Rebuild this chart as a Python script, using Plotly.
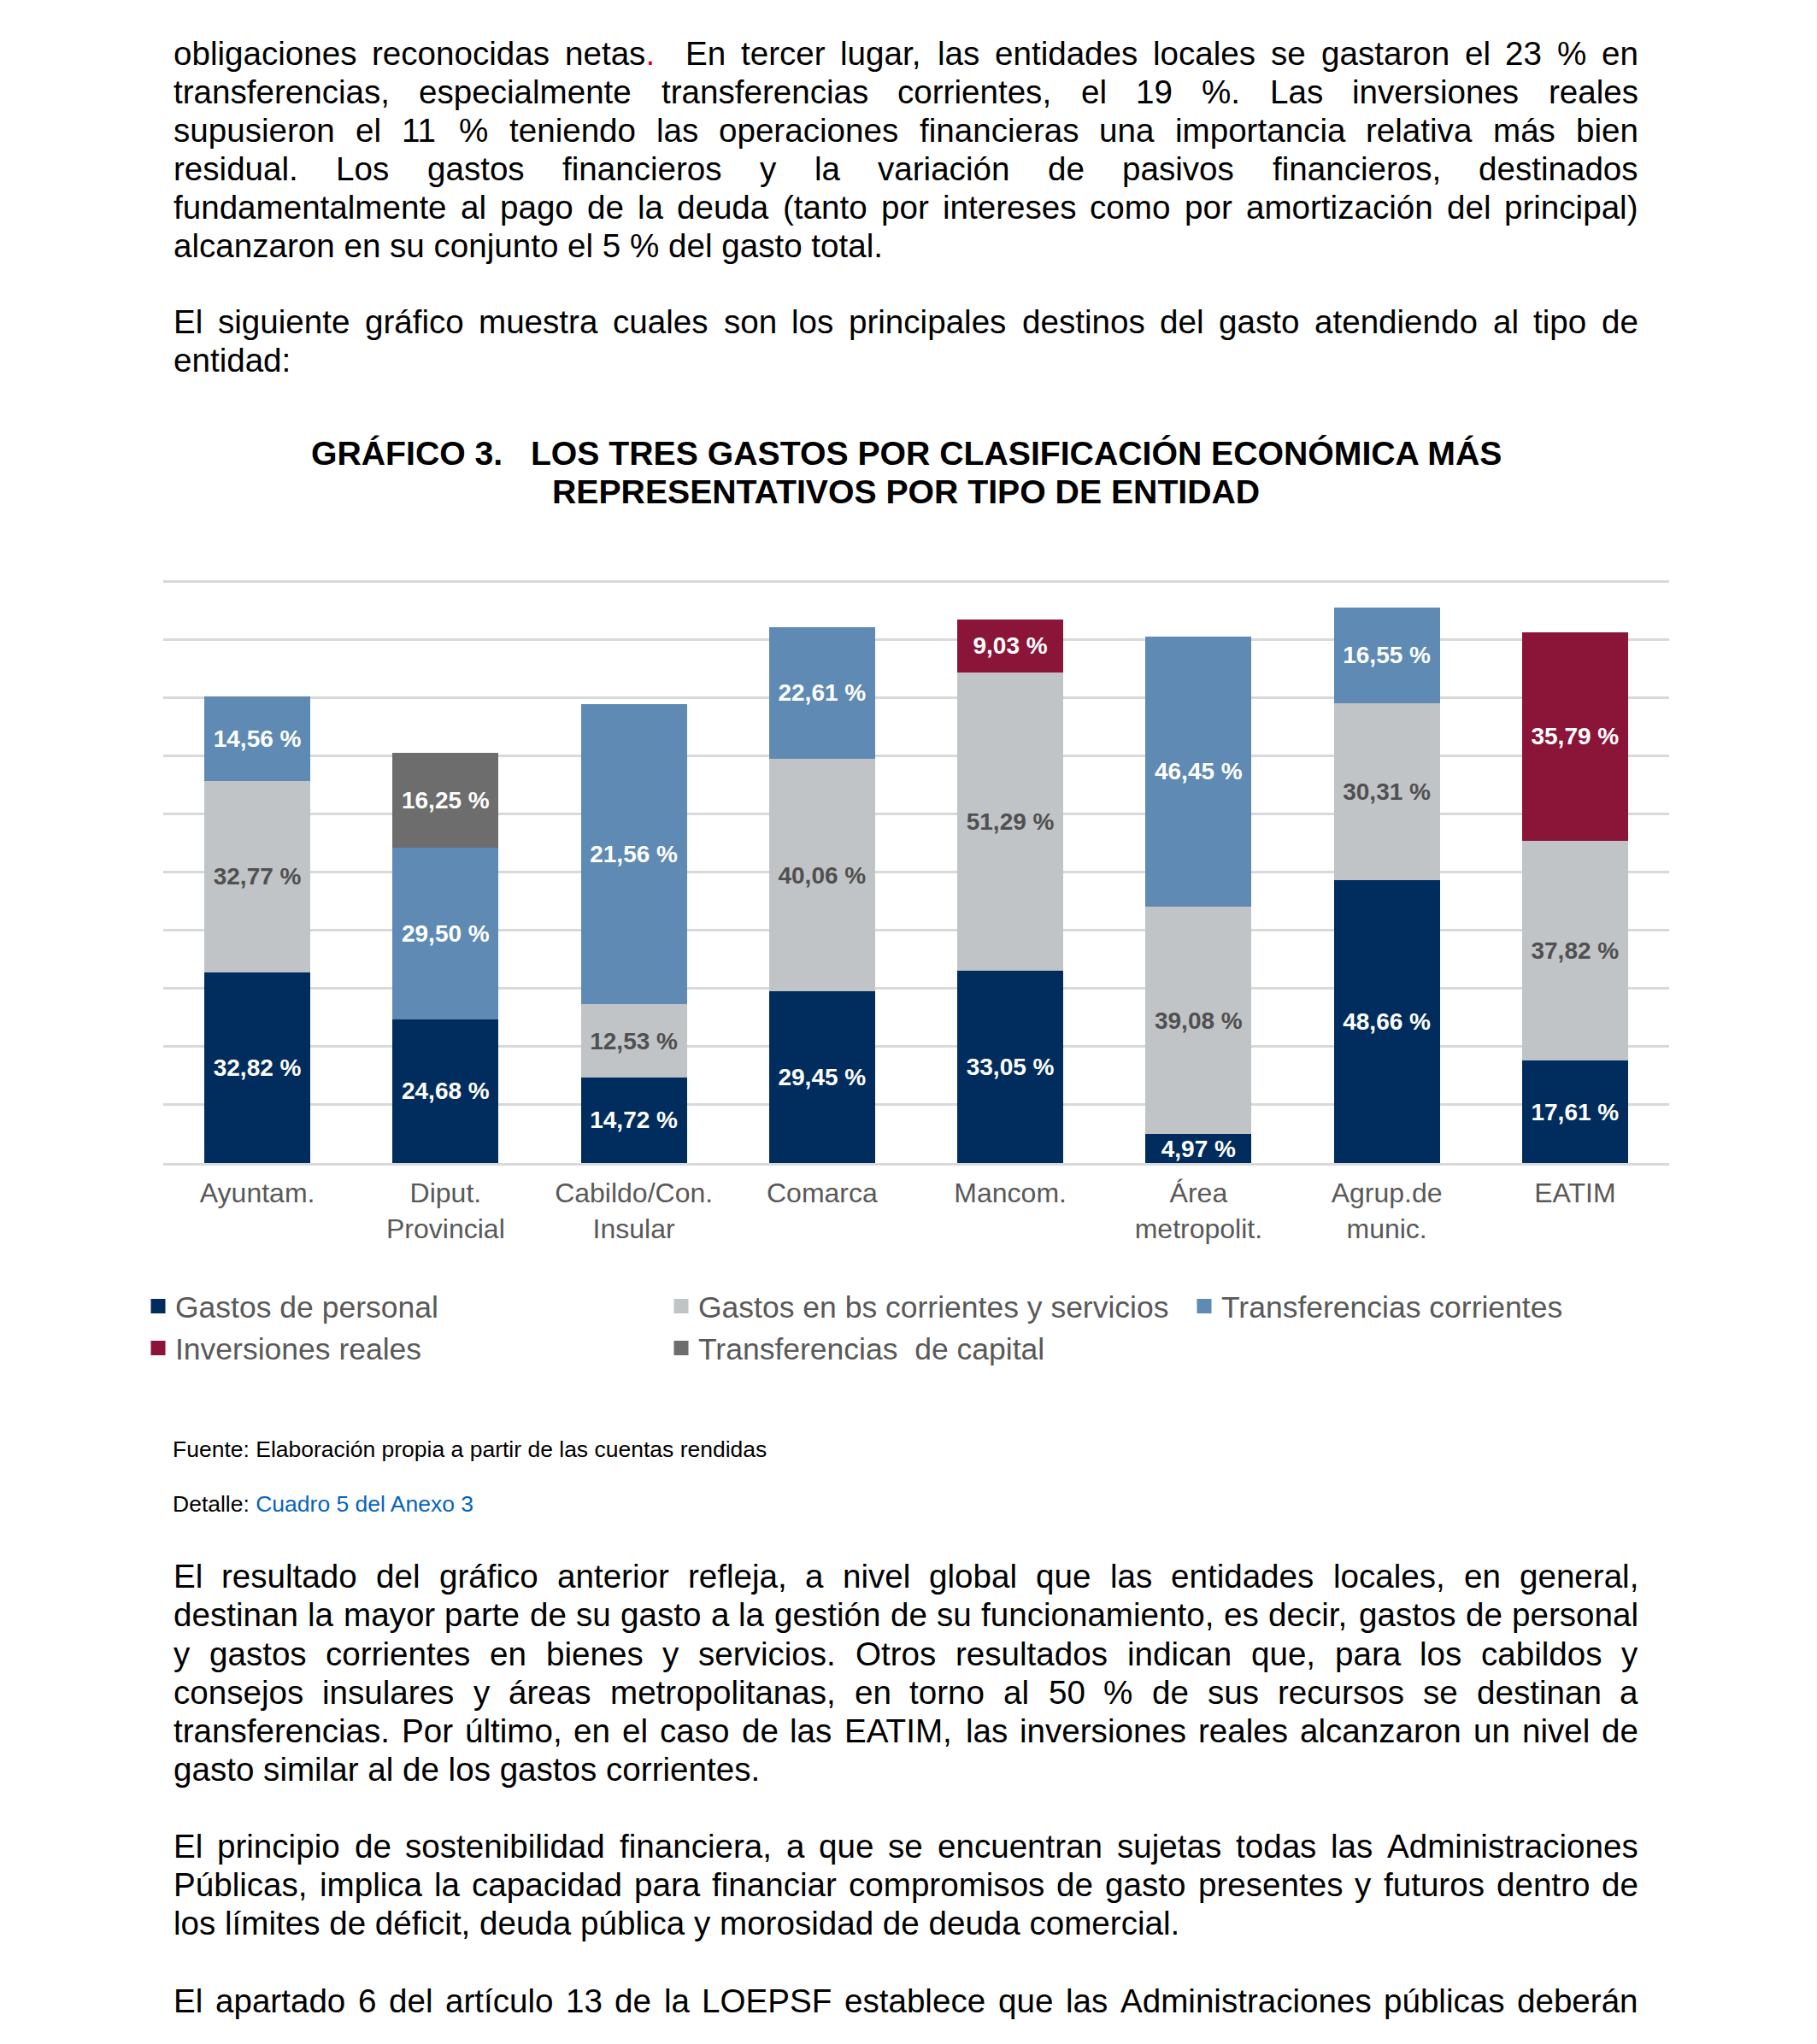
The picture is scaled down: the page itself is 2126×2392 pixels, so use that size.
import plotly.graph_objects as go

# ---------------- data ----------------
categories = ["Ayuntam.", "Diput.<br>Provincial", "Cabildo/Con.<br>Insular", "Comarca",
              "Mancom.", "Área<br>metropolit.", "Agrup.de<br>munic.", "EATIM"]

gastos_personal = [32.82, 24.68, 14.72, 29.45, 33.05, 4.97, 48.66, 17.61]
gastos_bs_corrientes = [32.77, None, 12.53, 40.06, 51.29, 39.08, 30.31, 37.82]
transferencias_corrientes = [14.56, 29.50, 51.56, 22.61, None, 46.45, 16.55, None]
inversiones_reales = [None, None, None, None, 9.03, None, None, 35.79]
transferencias_capital = [None, 16.25, None, None, None, None, None, None]

# label printed on the Cabildo/Con. Insular transfer segment in the source
transferencias_corrientes_labels = ["14,56 %", "29,50 %", "21,56 %", "22,61 %", "",
                                    "46,45 %", "16,55 %", ""]

series_names = ["Gastos de personal", "Gastos en bs corrientes y servicios",
                "Transferencias corrientes", "Inversiones reales",
                "Transferencias\u00a0 de capital"]

title_lines = ["GRÁFICO 3.\u00a0\u00a0 LOS TRES GASTOS POR CLASIFICACIÓN ECONÓMICA MÁS",
               "REPRESENTATIVOS POR TIPO DE ENTIDAD"]

para_top = [
    "obligaciones reconocidas netas.  En tercer lugar, las entidades locales se gastaron el 23 % en",
    "transferencias, especialmente transferencias corrientes, el 19 %. Las inversiones reales",
    "supusieron el 11 % teniendo las operaciones financieras una importancia relativa más bien",
    "residual. Los gastos financieros y la variación de pasivos financieros, destinados",
    "fundamentalmente al pago de la deuda (tanto por intereses como por amortización del principal)",
    "alcanzaron en su conjunto el 5 % del gasto total.",
]
para_intro = [
    "El siguiente gráfico muestra cuales son los principales destinos del gasto atendiendo al tipo de",
    "entidad:",
]
para_result = [
    "El resultado del gráfico anterior refleja, a nivel global que las entidades locales, en general,",
    "destinan la mayor parte de su gasto a la gestión de su funcionamiento, es decir, gastos de personal",
    "y gastos corrientes en bienes y servicios. Otros resultados indican que, para los cabildos y",
    "consejos insulares y áreas metropolitanas, en torno al 50 % de sus recursos se destinan a",
    "transferencias. Por último, en el caso de las EATIM, las inversiones reales alcanzaron un nivel de",
    "gasto similar al de los gastos corrientes.",
]
para_sost = [
    "El principio de sostenibilidad financiera, a que se encuentran sujetas todas las Administraciones",
    "Públicas, implica la capacidad para financiar compromisos de gasto presentes y futuros dentro de",
    "los límites de déficit, deuda pública y morosidad de deuda comercial.",
]
para_last = [
    "El apartado 6 del artículo 13 de la LOEPSF establece que las Administraciones públicas deberán",
]
fuente_text = "Fuente: Elaboración propia a partir de las cuentas rendidas"
detalle_label = "Detalle: "
detalle_link = "Cuadro 5 del Anexo 3"

# ---------------- style ----------------
FONT = "Liberation Sans, Arial, sans-serif"
colors = ["#002D5D", "#C0C4C7", "#5E8AB4", "#8B1538", "#6D6D6D"]
label_colors = ["#FFFFFF", "#505050", "#FFFFFF", "#FFFFFF", "#FFFFFF"]
legend_of = ["legend", "legend", "legend", "legend2", "legend2"]

W, H = 2126, 2392
PX_PER_UNIT = 6.81
PB = 1361                 # pixel of value 0
PT = 675                  # top of plot area (a little above the 100 gridline)
PL, PR = 191, 1953
YMAX = (PB - PT) / PX_PER_UNIT


def px2x(px):
    return (px - PL) / (PR - PL)


def py2y(py):
    return (PB - py) / (PB - PT)


def fmt(v):
    return "" if v is None else f"{v:.2f}".replace(".", ",") + " %"


fig = go.Figure()
all_series = [gastos_personal, gastos_bs_corrientes, transferencias_corrientes,
              inversiones_reales, transferencias_capital]
for i, vals in enumerate(all_series):
    if vals is transferencias_corrientes:
        texts = transferencias_corrientes_labels
    else:
        texts = [fmt(v) for v in vals]
    fig.add_trace(go.Bar(
        x=categories, y=vals, name=series_names[i], showlegend=False,
        legendgroup=series_names[i],
        marker=dict(color=colors[i], line=dict(width=0)),
        text=texts, textposition="inside", insidetextanchor="middle",
        textangle=0,
        textfont=dict(family=FONT, size=28, color=label_colors[i], weight="bold"),
        hoverinfo="skip",
    ))

# legend entries (no bars of their own; larger key squares like the source)
for i, name in enumerate(series_names):
    fig.add_trace(go.Bar(
        x=[categories[0]], y=[None], name=name, legend=legend_of[i],
        legendgroup=name, showlegend=True,
        marker=dict(color=colors[i], line=dict(color=colors[i], width=5)),
        hoverinfo="skip",
    ))

# ---------------- page text (justified lines) ----------------
AW = {' ': 278, '%': 889, '(': 333, ')': 333, ',': 278, '-': 333, '.': 278, '/': 278,
      ':': 278, ';': 278,
      'A': 667, 'B': 667, 'C': 722, 'D': 722, 'E': 667, 'F': 611, 'G': 778, 'H': 722,
      'I': 278, 'J': 500, 'K': 667, 'L': 556, 'M': 833, 'N': 722, 'O': 778, 'P': 667,
      'Q': 778, 'R': 722, 'S': 667, 'T': 611, 'U': 722, 'V': 667, 'W': 944, 'X': 667,
      'Y': 667, 'Z': 611,
      'a': 556, 'b': 556, 'c': 500, 'd': 556, 'e': 556, 'f': 278, 'g': 556, 'h': 556,
      'i': 222, 'j': 222, 'k': 500, 'l': 222, 'm': 833, 'n': 556, 'o': 556, 'p': 556,
      'q': 556, 'r': 333, 's': 500, 't': 278, 'u': 556, 'v': 500, 'w': 722, 'x': 500,
      'y': 500, 'z': 500,
      'á': 556, 'é': 556, 'í': 278, 'ó': 556, 'ú': 556, 'ñ': 556, 'Á': 667, 'É': 667,
      'Í': 278, 'Ó': 778, 'Ú': 722}
for d in "0123456789":
    AW[d] = 556

BODY_SIZE = 38.6
LEFT, RIGHT = 203, 1917


def tw(s, size):
    return sum(AW.get(c, 556) for c in s) * size / 1000.0


annotations = []


def text_ann(text, px, mid_y, size, anchor="left", color="#000000", bold=False):
    annotations.append(dict(
        x=px2x(px), y=py2y(mid_y), xref="paper", yref="paper",
        text=text, showarrow=False, xanchor=anchor, yanchor="middle",
        borderpad=0, borderwidth=0,
        font=dict(family=FONT, size=size, color=color,
                  weight="bold" if bold else "normal")))


def add_paragraph(lines, first_baseline, line_h=45.0, justify_last=False):
    for k, line in enumerate(lines):
        mid = first_baseline + k * line_h - 0.3465 * BODY_SIZE
        last = (k == len(lines) - 1) and not justify_last
        if last:
            text_ann(line.replace("  ", " \u00a0"), LEFT, mid, BODY_SIZE)
            continue
        tokens = line.split(" ")
        widths = [tw(t, BODY_SIZE) for t in tokens]
        gap = (RIGHT - LEFT - sum(widths)) / (len(tokens) - 1)
        x = LEFT
        for j, t in enumerate(tokens):
            if t:
                shown = t
                if t == "netas.":
                    shown = "netas<span style='color:#E00000'>.</span>"
                if j == len(tokens) - 1:
                    text_ann(shown, RIGHT, mid, BODY_SIZE, anchor="right")
                else:
                    text_ann(shown, x, mid, BODY_SIZE)
            x += widths[j] + gap


add_paragraph(para_top, 75.5)
add_paragraph(para_intro, 390)
add_paragraph(para_result, 1858, line_h=45.2)
add_paragraph(para_sost, 2173.5, line_h=45.2)
add_paragraph(para_last, 2355, justify_last=True)

# chart title (two centred bold lines)
text_ann(title_lines[0], 1060, 530.5, 39.2, anchor="center", bold=True)
text_ann(title_lines[1], 1060, 575.5, 39.2, anchor="center", bold=True)

# source notes
SRC_SIZE = 26.5
text_ann(fuente_text, 202, 1696, SRC_SIZE)
text_ann(detalle_label + "<span style='color:#0563C1'>" + detalle_link + "</span>",
         202, 1760, SRC_SIZE)

legend_common = dict(orientation="h", x=px2x(165), xanchor="left", yanchor="top",
                     entrywidth=567, entrywidthmode="pixels", traceorder="normal",
                     font=dict(family=FONT, size=35.5, color="#595959"),
                     bgcolor="rgba(0,0,0,0)", borderwidth=0, itemclick=False,
                     itemdoubleclick=False)

fig.update_layout(
    width=W, height=H,
    margin=dict(l=PL, r=W - PR, t=PT, b=H - PB, pad=0),
    paper_bgcolor="white", plot_bgcolor="white",
    barmode="stack", bargap=0.437,
    showlegend=True,
    legend=dict(legend_common, y=py2y(1499)),
    legend2=dict(legend_common, y=py2y(1548)),
    uniformtext=dict(minsize=28, mode="show"),
    xaxis=dict(type="category", categoryorder="array", categoryarray=categories,
               showgrid=False, showline=True, linecolor="#D9D9D9",
               linewidth=2.5, ticks="", ticklabelstandoff=5,
               tickfont=dict(family=FONT, size=32, color="#595959"),
               fixedrange=True),
    yaxis=dict(range=[0, YMAX], dtick=10, tick0=0, showticklabels=False, showgrid=True,
               gridcolor="#D9D9D9", gridwidth=2.5, zeroline=False, showline=False,
               ticks="", fixedrange=True),
    annotations=annotations,
)

fig.write_html("out.html", config={"displayModeBar": False},
               post_script="document.body.style.margin='0';document.body.style.overflow='hidden';")
